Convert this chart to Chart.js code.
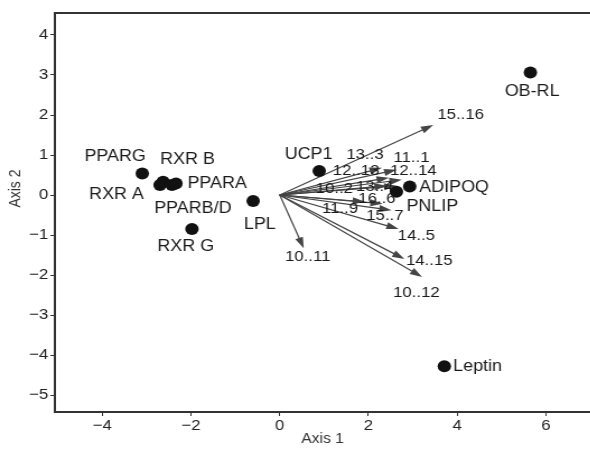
<!DOCTYPE html>
<html>
<head>
<meta charset="utf-8">
<script src="https://cdn.jsdelivr.net/npm/chart.js@4.4.1/dist/chart.umd.min.js"></script>
<style>
  html, body { margin: 0; padding: 0; background: #fff; overflow: hidden; }
  /* the source picture is stretched sideways, so draw narrower and widen it */
  #wrap { width: 533px; height: 449px; transform: scaleX(1.12); transform-origin: 0 0; }
</style>
</head>
<body>
<div id="wrap"><canvas id="biplot"></canvas></div>
<script>
// gene scores (black dots)
const geneNames = ['PPARG', 'RXR A', 'RXR B', 'PPARB/D', 'PPARA', 'RXR G', 'LPL', 'UCP1', 'PNLIP', 'ADIPOQ', 'OB-RL', 'Leptin'];
const geneX = [-3.10, -2.70, -2.63, -2.43, -2.34, -1.98, -0.60, 0.89, 2.63, 2.93, 5.65, 3.71];
const geneY = [0.54, 0.25, 0.33, 0.25, 0.29, -0.85, -0.15, 0.60, 0.08, 0.21, 3.06, -4.28];
// where each gene name sits
const geneLabelX = [-3.71, -3.68, -2.08, -1.96, -1.41, -2.12, -0.45, 0.65, 3.44, 3.93, 5.69, 4.46];
const geneLabelY = [0.95, 0.00, 0.88, -0.35, 0.28, -1.28, -0.75, 1.00, -0.30, 0.18, 2.58, -4.28];

// loading vectors, drawn as arrows from the origin
const vecNames = ['15..16', '13..3', '11..1', '12..13', '12..14', '10..2', '13..4', '16..6', '11..9', '15..7', '14..5', '14..15', '10..12', '10..11'];
const vecX = [3.46, 2.30, 2.63, 2.46, 2.75, 2.41, 2.63, 2.32, 1.92, 2.52, 2.68, 2.81, 3.21, 0.54];
const vecY = [1.75, 0.68, 0.63, 0.43, 0.38, 0.23, 0.23, -0.22, -0.17, -0.38, -0.85, -1.60, -2.05, -1.33];
const vecLabelX = [4.08, 1.92, 2.97, 1.72, 3.01, 1.23, 2.14, 2.19, 1.36, 2.37, 3.08, 3.37, 3.08, 0.63];
const vecLabelY = [2.00, 1.00, 0.93, 0.60, 0.60, 0.15, 0.20, -0.10, -0.35, -0.53, -1.03, -1.65, -2.45, -1.55];

const xTicks = [-4, -2, 0, 2, 4, 6];
const yTicks = [-5, -4, -3, -2, -1, 0, 1, 2, 3, 4];

const FONT = 'Arial, "Liberation Sans", sans-serif';
const minus = v => String(v).replace('-', '\u2212');

// arrows under the dots, names on top, plus the top frame line and y title
const biplotPlugin = {
  id: 'biplot',
  beforeDatasetsDraw(chart) {
    const { ctx, scales: { x, y } } = chart;
    const x0 = x.getPixelForValue(0), y0 = y.getPixelForValue(0);
    ctx.save();
    ctx.strokeStyle = '#444';
    ctx.fillStyle = '#444';
    ctx.lineWidth = 1.2;
    vecX.forEach((vx, i) => {
      const x1 = x.getPixelForValue(vx), y1 = y.getPixelForValue(vecY[i]);
      const a = Math.atan2(y1 - y0, x1 - x0);
      const len = 11, half = 3.6;
      ctx.beginPath();
      ctx.moveTo(x0, y0);
      ctx.lineTo(x1 - Math.cos(a) * len * 0.8, y1 - Math.sin(a) * len * 0.8);
      ctx.stroke();
      ctx.beginPath();
      ctx.moveTo(x1, y1);
      ctx.lineTo(x1 - Math.cos(a) * len - Math.sin(a) * half, y1 - Math.sin(a) * len + Math.cos(a) * half);
      ctx.lineTo(x1 - Math.cos(a) * len + Math.sin(a) * half, y1 - Math.sin(a) * len - Math.cos(a) * half);
      ctx.closePath();
      ctx.fill();
    });
    ctx.restore();
  },
  afterDatasetsDraw(chart) {
    const { ctx, chartArea, scales: { x, y } } = chart;
    ctx.save();
    ctx.textAlign = 'center';
    ctx.textBaseline = 'middle';
    ctx.fillStyle = '#1a1a1a';
    ctx.font = '16px ' + FONT;
    geneNames.forEach((n, i) => {
      ctx.fillText(n, x.getPixelForValue(geneLabelX[i]), y.getPixelForValue(geneLabelY[i]));
    });
    ctx.font = '15px ' + FONT;
    vecNames.forEach((n, i) => {
      ctx.fillText(n, x.getPixelForValue(vecLabelX[i]), y.getPixelForValue(vecLabelY[i]));
    });

    // top frame line
    ctx.strokeStyle = '#333';
    ctx.lineWidth = 2;
    ctx.beginPath();
    ctx.moveTo(chartArea.left - 1, chartArea.top);
    ctx.lineTo(chartArea.right, chartArea.top);
    ctx.stroke();

    // y axis title
    ctx.fillStyle = '#333';
    ctx.font = '14px ' + FONT;
    ctx.translate(14, chartArea.top + (chartArea.bottom - chartArea.top) * 0.44);
    ctx.rotate(-Math.PI / 2);
    ctx.fillText('Axis 2', 0, 0);
    ctx.restore();
  }
};

new Chart(document.getElementById('biplot'), {
  type: 'scatter',
  data: {
    datasets: [{
      data: geneX.map((gx, i) => ({ x: gx, y: geneY[i] })),
      pointRadius: 6,
      pointHoverRadius: 6,
      backgroundColor: '#111',
      borderWidth: 0
    }]
  },
  options: {
    responsive: true,
    maintainAspectRatio: false,
    animation: false,
    events: [],
    layout: { padding: { top: 13, right: 1, left: 0, bottom: 0 } },
    plugins: { legend: { display: false }, tooltip: { enabled: false } },
    scales: {
      x: {
        type: 'linear',
        min: -5.07,
        max: 7,
        afterBuildTicks: s => { s.ticks = xTicks.map(v => ({ value: v })); },
        afterFit: s => { s.height = 37; },
        ticks: { autoSkip: false, maxRotation: 0, padding: 1, color: '#222', font: { family: FONT, size: 15 }, callback: minus },
        grid: { display: true, drawOnChartArea: false, drawTicks: true, tickLength: 4, color: '#333' },
        border: { display: true, color: '#333', width: 2 },
        title: { display: true, text: 'Axis 1', color: '#333', font: { family: FONT, size: 14 }, padding: { top: 0, bottom: 1 } }
      },
      y: {
        type: 'linear',
        min: -5.425,
        max: 4.55,
        afterBuildTicks: s => { s.ticks = yTicks.map(v => ({ value: v })); },
        afterFit: s => { s.width = 49; },
        ticks: { autoSkip: false, padding: 2, color: '#222', font: { family: FONT, size: 15 }, callback: minus },
        grid: { display: true, drawOnChartArea: false, drawTicks: true, tickLength: 4, color: '#333' },
        border: { display: true, color: '#333', width: 2 }
      }
    }
  },
  plugins: [biplotPlugin]
});
</script>
</body>
</html>
